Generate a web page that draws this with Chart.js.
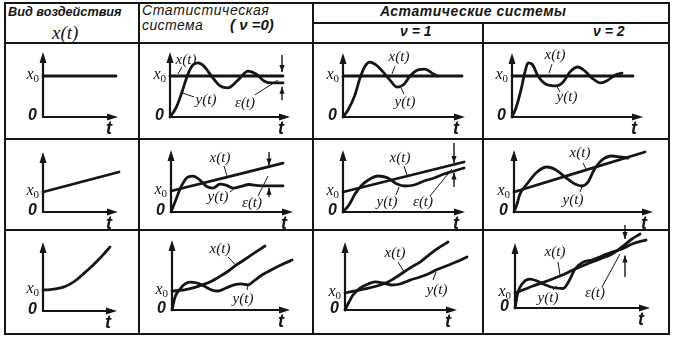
<!DOCTYPE html>
<html><head><meta charset="utf-8">
<script src="https://cdn.jsdelivr.net/npm/chart.js@4.4.1/dist/chart.umd.min.js"></script>
<style>
html,body{margin:0;padding:0;background:#fff;}
#wrap{position:relative;width:674px;height:338px;overflow:hidden;background:#fff;}
.ln{position:absolute;background:#151515;}
.tx{position:absolute;white-space:nowrap;color:#151515;line-height:1;}
.sans{font-family:"Liberation Sans",Arial,sans-serif;}
.serif{font-family:"Liberation Serif","DejaVu Serif","Times New Roman",serif;}
canvas{position:absolute;}
</style></head><body><div id="wrap"></div>
<script>
// ---------- data (t in arbitrary time units, values in units of x0) ----------
// Row 1: step input
const r1c1_xt=[0,7.3], r1c1_x=[1,1];
const r1c2_xt=[0,11.3], r1c2_x=[1,1];
const r1c2_yt=[0,0.6,1.2,1.8,2.3,2.8,3.4,4.2,5.0,5.8,6.8,7.8,8.6,9.4,10.2,11.3];
const r1c2_y =[0,0.22,0.61,1.05,1.27,1.32,1.24,0.98,0.76,0.71,0.90,1.12,1.05,0.88,0.83,0.83];
const r1c3_xt=[0,11.9], r1c3_x=[1,1];
const r1c3_yt=[0,0.5,1.2,1.7,2.2,2.7,3.3,4.0,4.7,5.4,6.1,6.7,7.5,8.2,8.9,9.4];
const r1c3_y =[0,0.17,0.54,0.95,1.24,1.34,1.27,1.10,0.90,0.73,0.80,1.0,1.15,1.17,1.07,1.0];
const r1c4_xt=[0,12.1], r1c4_x=[1,1];
const r1c4_yt=[0,0.4,0.9,1.3,1.6,2.0,2.6,3.4,4.4,5.1,5.8,6.6,7.3,8.0,8.9,9.6,10.3,11.0];
const r1c4_y =[0,0.22,0.66,1.10,1.32,1.29,1.0,0.80,0.76,0.85,1.10,1.22,1.12,0.95,0.83,0.90,1.02,1.07];
// Row 2: ramp input
const r2c1_xt=[0,7.6], r2c1_x=[1,2.0];
const r2c2_xt=[0,11.2], r2c2_x=[1,2.33];
const r2c2_yt=[0,0.4,1.1,1.7,2.2,2.9,3.5,4.2,4.9,5.5,6.2,7.0,7.8,8.7,9.9,11.2];
const r2c2_y =[0,0.48,1.29,1.67,1.71,1.52,1.24,1.14,1.33,1.28,1.14,1.22,1.31,1.26,1.24,1.24];
const r2c3_xt=[0,12.1], r2c3_x=[1,2.5];
const r2c3_yt=[0,0.6,1.2,1.9,2.7,3.5,4.5,5.4,6.2,7.1,8.1,9.1,10.1,11.1,12.1];
const r2c3_y =[0,0.35,0.9,1.35,1.65,1.80,1.70,1.40,1.30,1.35,1.55,1.70,1.90,2.05,2.2];
const r2c4_xt=[0,13.1], r2c4_x=[1,3.0];
const r2c4_yt=[0,0.3,0.6,1.3,2.3,3.3,4.2,5.1,6.1,6.8,7.4,8.0,8.8,9.8,10.6,11.4];
const r2c4_y =[0,0.4,0.9,1.4,2.0,2.25,2.1,1.75,1.4,1.3,1.5,2.1,2.6,2.8,2.75,2.7];
// Row 3: accelerating input
const r3c1_xt=[0,0.7,1.4,2.1,2.7,3.4,4.0,4.7,5.4,6.1,6.7];
const r3c1_x =[1.0,1.015,1.06,1.15,1.28,1.5,1.75,2.05,2.37,2.72,3.05];
const r3c2_xt=[0,1.1,2.1,3.0,3.8,4.7,5.5,6.3,7.2,8.1,9.3];
const r3c2_x =[1.0,1.05,1.16,1.32,1.47,1.74,2.0,2.32,2.63,2.95,3.37];
const r3c2_yt=[0,0.3,0.8,1.3,1.8,2.5,3.2,4.0,4.6,5.4,6.2,6.9,7.6,8.2,9.0,10.1,11.1,12.0];
const r3c2_y =[0,0.68,1.1,1.37,1.47,1.42,1.26,1.05,1.0,1.16,1.32,1.37,1.32,1.53,1.84,2.16,2.42,2.63];
const r3c3_xt=[0,1.0,2.0,3.2,4.3,5.3,6.5,7.5,8.5,9.5,10.3];
const r3c3_x =[1.0,1.12,1.24,1.41,1.65,2.0,2.47,2.82,3.29,3.71,4.0];
const r3c3_yt=[0,0.4,0.8,1.5,2.3,3.0,3.8,4.7,5.5,6.5,7.5,8.3,9.1,10.1,11.1,12.2];
const r3c3_y =[0,0.47,0.88,1.29,1.53,1.65,1.59,1.47,1.53,1.76,1.94,2.12,2.35,2.59,2.82,3.12];
const r3c4_xt=[0,1.8,3.2,4.5,5.8,7.2,8.5,9.7,10.7,11.7,12.5];
const r3c4_x =[1.0,1.47,1.8,2.13,2.53,2.93,3.27,3.6,4.07,4.6,4.93];
const r3c4_yt=[0,0.3,0.7,1.5,2.2,3.0,3.9,4.8,5.4,6.0,6.8,7.7,8.7,9.7,10.7,11.7,13.1];
const r3c4_y =[0,1.07,1.6,1.93,1.8,1.55,1.35,1.3,1.8,2.6,3.05,3.2,3.47,3.73,3.93,4.27,4.53];

// ---------- layout ----------
const INK='#151515';
const SERIF='"Liberation Serif","DejaVu Serif","Times New Roman",serif';
const SANS='"Liberation Sans",Arial,sans-serif';
const wrap=document.getElementById('wrap');
function line(x,y,w,h){const d=document.createElement('div');d.className='ln';Object.assign(d.style,{left:x+'px',top:y+'px',width:w+'px',height:h+'px'});wrap.appendChild(d);}
function text(s,x,y,cls,css){const d=document.createElement('div');d.className='tx '+cls;d.textContent=s;Object.assign(d.style,{left:x+'px',top:y+'px'},css||{});wrap.appendChild(d);return d;}
// table rules
line(4,2,666,2); line(4,333,666,2); line(4,2,2,333); line(668,2,2,333);
line(138,2,2,333); line(312,2,2,333); line(482,22,2,313);
line(312,22,358,2); line(4,42,666,2); line(4,138,666,2); line(4,229,666,2);
// header texts
text('Вид воздействия',8,6,'sans',{fontSize:'12.7px',fontWeight:'bold',fontStyle:'italic'});
text('x(t)',52,23,'serif',{fontSize:'19px',fontStyle:'italic'});
text('Статистическая',142,3,'sans',{fontSize:'14px',fontStyle:'italic',letterSpacing:'0.6px'});
text('система',142,18,'sans',{fontSize:'14px',fontStyle:'italic',letterSpacing:'0.4px'});
text('( ν =0)',230,17,'sans',{fontSize:'15px',fontWeight:'bold',fontStyle:'italic'});
text('Астатические   системы',380,4,'sans',{fontSize:'14px',fontWeight:'bold',fontStyle:'italic',letterSpacing:'0.5px'});
text('ν = 1',400,24,'sans',{fontSize:'14px',fontWeight:'bold',fontStyle:'italic'});
text('ν = 2',593,24,'sans',{fontSize:'14px',fontWeight:'bold',fontStyle:'italic'});

function head(ctx,x,y,dx,dy,len,hw){
  ctx.beginPath();ctx.moveTo(x,y);
  ctx.lineTo(x-dx*len-dy*hw,y-dy*len+dx*hw);
  ctx.lineTo(x-dx*len+dy*hw,y-dy*len-dx*hw);
  ctx.closePath();ctx.fill();
}
const decor={id:'decor',
  beforeDatasetsDraw(chart){
    const {ctx,chartArea:a,scales}=chart;
    ctx.save();ctx.strokeStyle=INK;ctx.fillStyle=INK;ctx.lineWidth=2.2;
    ctx.beginPath();ctx.moveTo(a.left,a.bottom+1);ctx.lineTo(a.left,a.top+8);
    ctx.moveTo(a.left-1,a.bottom);ctx.lineTo(a.right-8,a.bottom);ctx.stroke();
    head(ctx,a.left,a.top,0,-1,11,3.5);head(ctx,a.right,a.bottom,1,0,11,3.5);
    const y1=scales.y.getPixelForValue(1);
    ctx.textBaseline='middle';ctx.textAlign='left';
    ctx.font='italic 16px '+SERIF;const wx=ctx.measureText('x').width;
    ctx.font='11px '+SERIF;const w0=ctx.measureText('0').width;
    const sx=a.left-4-wx-w0;
    ctx.font='italic 16px '+SERIF;ctx.fillText('x',sx,y1-1);
    ctx.font='11px '+SERIF;ctx.fillText('0',sx+wx,y1+3);
    ctx.font='bold italic 16px '+SANS;ctx.textAlign='right';
    ctx.fillText('0',a.left-6,a.bottom-1);
    ctx.font='bold italic 18px '+SANS;ctx.textAlign='center';
    ctx.fillText('t',a.right-9,a.bottom+12);
    ctx.restore();
  },
  afterDatasetsDraw(chart){
    const o=chart.options.plugins.decor||{};const {ctx,scales:{x,y}}=chart;
    ctx.save();ctx.strokeStyle=INK;ctx.fillStyle=INK;
    (o.notes||[]).forEach(n=>{
      ctx.font='italic 15px '+SERIF;ctx.textAlign='center';ctx.textBaseline='middle';
      ctx.fillText(n.s,x.getPixelForValue(n.at[0]),y.getPixelForValue(n.at[1]));
      ctx.lineWidth=1;ctx.beginPath();
      ctx.moveTo(x.getPixelForValue(n.ln[0][0]),y.getPixelForValue(n.ln[0][1]));
      ctx.lineTo(x.getPixelForValue(n.ln[1][0]),y.getPixelForValue(n.ln[1][1]));ctx.stroke();
    });
    if(o.eps){
      const px=x.getPixelForValue(o.eps.t);ctx.lineWidth=1.4;
      [o.eps.a,o.eps.b].forEach(p=>{
        const p0=y.getPixelForValue(p[0]),p1=y.getPixelForValue(p[1]);
        ctx.beginPath();ctx.moveTo(px,p0);ctx.lineTo(px,p1);ctx.stroke();
        head(ctx,px,p1,0,p1>p0?1:-1,7,2.6);
      });
    }
    ctx.restore();
  }
};
Chart.register(decor);

const cols=[[6,132],[140,172],[314,168],[484,184]];
const rows=[[44,94],[140,89],[231,102]];
// g: [originX, baselineY, xAxisEndX, yAxisTopY, pixels per x0]
const cells=[
 {c:0,r:0,g:[43,117,118,52,41],xs:[r1c1_xt,r1c1_x]},
 {c:1,r:0,g:[170,117,290,52,41],xs:[r1c2_xt,r1c2_x],ys:[r1c2_yt,r1c2_y],
  notes:[{s:'x(t)',at:[1.6,1.39],ln:[[1.2,1.22],[0.8,1.05]]},{s:'y(t)',at:[3.6,0.41],ln:[[2.4,0.49],[1.2,0.59]]},{s:'ε(t)',at:[7.5,0.34],ln:[[8.5,0.54],[10.8,0.9]]}],
  eps:{t:11.2,a:[1.51,1.1],b:[0.41,0.74]}},
 {c:2,r:0,g:[343,117,465,53,41],xs:[r1c3_xt,r1c3_x],ys:[r1c3_yt,r1c3_y],
  notes:[{s:'x(t)',at:[5.6,1.46],ln:[[5.2,1.24],[4.9,1.05]]},{s:'y(t)',at:[6.2,0.37],ln:[[6.1,0.56],[5.8,0.71]]}]},
 {c:3,r:0,g:[512,117,643,53,41],xs:[r1c4_xt,r1c4_x],ys:[r1c4_yt,r1c4_y],
  notes:[{s:'x(t)',at:[4.3,1.51],ln:[[4.0,1.29],[3.7,1.07]]},{s:'y(t)',at:[5.5,0.49],ln:[[4.8,0.61],[4.5,0.74]]}]},
 {c:0,r:1,g:[43,212,118,152,20],xs:[r2c1_xt,r2c1_x]},
 {c:1,r:1,g:[171,212,293,150,21],xs:[r2c2_xt,r2c2_x],ys:[r2c2_yt,r2c2_y],
  notes:[{s:'x(t)',at:[4.9,2.57],ln:[[5.3,2.19],[5.6,1.72]]},{s:'y(t)',at:[4.7,0.71],ln:[[5.9,0.95],[6.4,1.15]]},{s:'ε(t)',at:[8.1,0.43],ln:[[8.7,0.76],[9.7,1.71]]}],
  eps:{t:9.8,a:[2.86,2.22],b:[0.71,1.15]}},
 {c:2,r:1,g:[343,212,465,150,20],xs:[r2c3_xt,r2c3_x],ys:[r2c3_yt,r2c3_y],
  notes:[{s:'x(t)',at:[5.7,2.7],ln:[[6.1,2.3],[6.4,1.85]]},{s:'y(t)',at:[4.4,0.5],ln:[[5.3,0.85],[5.6,1.25]]},{s:'ε(t)',at:[8.0,0.5],ln:[[8.7,0.8],[10.9,2.15]]}],
  eps:{t:11.1,a:[3.45,2.45],b:[1.25,1.98]}},
 {c:3,r:1,g:[514,212,653,150,20],xs:[r2c4_xt,r2c4_x],ys:[r2c4_yt,r2c4_y],
  notes:[{s:'x(t)',at:[6.6,2.95],ln:[[6.9,2.45],[7.2,2.15]]},{s:'y(t)',at:[5.9,0.6],ln:[[6.6,1.0],[6.8,1.25]]}]},
 {c:0,r:2,g:[43,311,117,242,21],xs:[r3c1_xt,r3c1_x]},
 {c:1,r:2,g:[172,310,290,240,19],xs:[r3c2_xt,r3c2_x],ys:[r3c2_yt,r3c2_y],
  notes:[{s:'x(t)',at:[4.8,3.2],ln:[[5.6,2.79],[6.3,2.4]]},{s:'y(t)',at:[7.1,0.58],ln:[[7.5,1.05],[7.6,1.28]]}]},
 {c:2,r:2,g:[345,310,457,242,17],xs:[r3c3_xt,r3c3_x],ys:[r3c3_yt,r3c3_y],
  notes:[{s:'x(t)',at:[5.0,3.35],ln:[[5.3,2.82],[5.9,2.25]]},{s:'y(t)',at:[9.2,1.18],ln:[[8.8,1.76],[9.1,2.24]]}]},
 {c:3,r:2,g:[515,308,650,243,15],xs:[r3c4_xt,r3c4_x],ys:[r3c4_yt,r3c4_y],
  notes:[{s:'x(t)',at:[4.0,3.73],ln:[[4.3,3.07],[4.5,2.2]]},{s:'y(t)',at:[3.3,0.67],ln:[[3.8,1.2],[4.2,1.5]]},{s:'ε(t)',at:[8.0,1.0],ln:[[8.7,1.4],[10.5,3.6]]}],
  eps:{t:11.0,a:[5.53,4.6],b:[2.07,3.5]}}
];
const xy=(ts,vs)=>ts.map((t,i)=>({x:t,y:vs[i]}));
cells.forEach(cell=>{
  const [cx,cw]=cols[cell.c],[ry,rh]=rows[cell.r];
  const left=cx,top=ry-12,w=cw,h=rh+12;
  const [ox,base,xe,yt,unit]=cell.g;
  const cv=document.createElement('canvas');cv.width=w;cv.height=h;
  cv.style.left=left+'px';cv.style.top=top+'px';wrap.appendChild(cv);
  const ds=[];
  const mk=(s)=>({data:xy(s[0],s[1]),borderColor:INK,borderWidth:2.8,pointRadius:0,fill:false,clip:false,cubicInterpolationMode:'monotone',borderCapStyle:'round',borderJoinStyle:'round'});
  ds.push(mk(cell.xs)); if(cell.ys) ds.push(mk(cell.ys));
  new Chart(cv,{type:'line',data:{datasets:ds},options:{
    responsive:false,animation:false,events:[],devicePixelRatio:1,
    layout:{padding:{left:ox-left,top:yt-top,right:left+w-xe,bottom:top+h-base}},
    plugins:{legend:{display:false},tooltip:{enabled:false},decor:{notes:cell.notes,eps:cell.eps}},
    scales:{x:{type:'linear',display:false,min:0,max:(xe-ox)/10},y:{type:'linear',display:false,min:0,max:(base-yt)/unit}}
  }});
});
</script></body></html>
